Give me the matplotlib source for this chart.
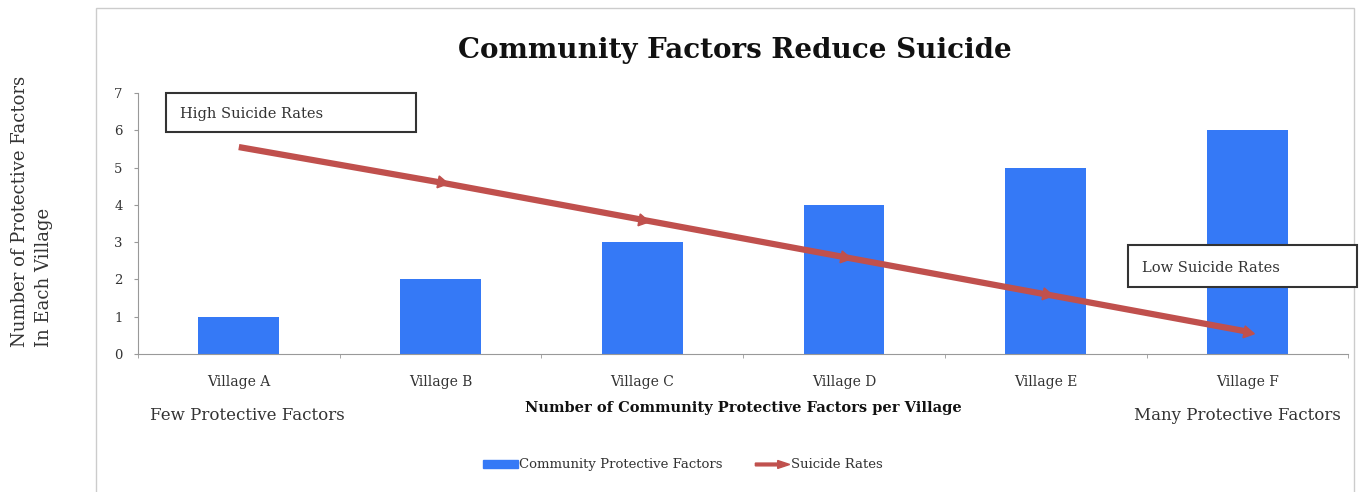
import matplotlib.pyplot as plt
import matplotlib.patches as mpatches
from matplotlib.legend_handler import HandlerPatch
import numpy as np

# Data
villages = ['Village A', 'Village B', 'Village C', 'Village D', 'Village E', 'Village F']
protective_factors = [1, 2, 3, 4, 5, 6]
suicide_rates = [5.55, 4.6, 3.6, 2.6, 1.6, 0.6]

bar_color = '#3579F6'
line_color = '#C0504D'
text_color = '#333333'

plt.rcParams['font.family'] = ['DejaVu Serif']

W, H = 1366, 492
fig = plt.figure(figsize=(W / 100, H / 100), dpi=100)

# Outer chart frame
fig.patches.append(mpatches.Rectangle((96 / W, -0.01), 1258 / W, 1 - 8 / H + 0.01,
                                      transform=fig.transFigure, fill=False,
                                      edgecolor='#cccccc', lw=1))

ax = fig.add_axes([0.101, 0.2805, 0.886, 0.5305])
x = np.arange(len(villages))

ax.bar(x, protective_factors, width=0.4, color=bar_color, zorder=2)

# line with arrowheads along the way
ax.plot(x, suicide_rates, color=line_color, lw=4.5, zorder=3,
        marker=(3, 0, -100.5), markersize=10, markevery=[1, 2, 3, 4, 5],
        solid_capstyle='butt')

ax.set_xlim(-0.5, len(villages) - 0.5)
ax.set_ylim(0, 7)
ax.set_yticks(range(0, 8))
ax.set_xticks(x)
ax.set_xticklabels(villages)
ax.set_xticks(np.arange(-0.5, len(villages)), minor=True)
ax.tick_params(axis='x', which='major', length=0, pad=15, labelsize=10, colors=text_color)
ax.tick_params(axis='x', which='minor', length=3, color='#999999')
ax.tick_params(axis='y', length=3, color='#999999', labelsize=9.5, colors=text_color, pad=8)
for s in ['top', 'right']:
    ax.spines[s].set_visible(False)
ax.spines['left'].set_color('#999999')
ax.spines['bottom'].set_color('#999999')

fig.text(0.538, 0.898, 'Community Factors Reduce Suicide', ha='center', va='center',
         fontsize=20, fontweight='bold', color='#111111')

# y label: two lines, both starting at the same baseline end
fig.text(32 / W, 1 - 347 / H, 'Number of Protective Factors\nIn Each Village', rotation=90,
         ha='center', va='bottom', multialignment='left', fontsize=13,
         color=text_color, linespacing=1.45)

fig.text(0.544, 0.17, 'Number of Community Protective Factors per Village',
         ha='center', va='center', fontsize=10.5, fontweight='bold', color='#111111')
fig.text(0.181, 0.155, 'Few Protective Factors', ha='center', va='center',
         fontsize=12, color=text_color)
fig.text(0.906, 0.155, 'Many Protective Factors', ha='center', va='center',
         fontsize=12, color=text_color)

# annotation boxes
fig.patches.append(mpatches.Rectangle((166 / W, 1 - 132 / H), 250 / W, 39 / H,
                                      transform=fig.transFigure, facecolor='white',
                                      edgecolor='#333333', lw=1.5, zorder=5))
fig.text(180 / W, 1 - 114 / H, 'High Suicide Rates', ha='left', va='center',
         fontsize=10.5, color=text_color, zorder=6)
fig.patches.append(mpatches.Rectangle((1128 / W, 1 - 287 / H), 229 / W, 42 / H,
                                      transform=fig.transFigure, facecolor='white',
                                      edgecolor='#333333', lw=1.5, zorder=5))
fig.text(1142 / W, 1 - 268 / H, 'Low Suicide Rates', ha='left', va='center',
         fontsize=10.5, color=text_color, zorder=6)


def make_arrow(legend, orig_handle, xdescent, ydescent, width, height, fontsize):
    return mpatches.FancyArrow(0, height / 2, width, 0, width=height * 0.35,
                               head_width=height * 1.0, head_length=width * 0.35,
                               length_includes_head=True)


arrow_handle = mpatches.FancyArrow(0, 0, 1, 0, color=line_color, label='Suicide Rates')
bar_handle = mpatches.Patch(color=bar_color, label='Community Protective Factors')
fig.legend(handles=[bar_handle, arrow_handle], loc='center', bbox_to_anchor=(0.5, 0.055),
           ncol=2, frameon=False, fontsize=9.5, handlelength=2.6, handleheight=0.55,
           columnspacing=2.5, handletextpad=0.1, labelcolor=text_color,
           handler_map={mpatches.FancyArrow: HandlerPatch(patch_func=make_arrow)})

fig.savefig('out.png', dpi=100)
